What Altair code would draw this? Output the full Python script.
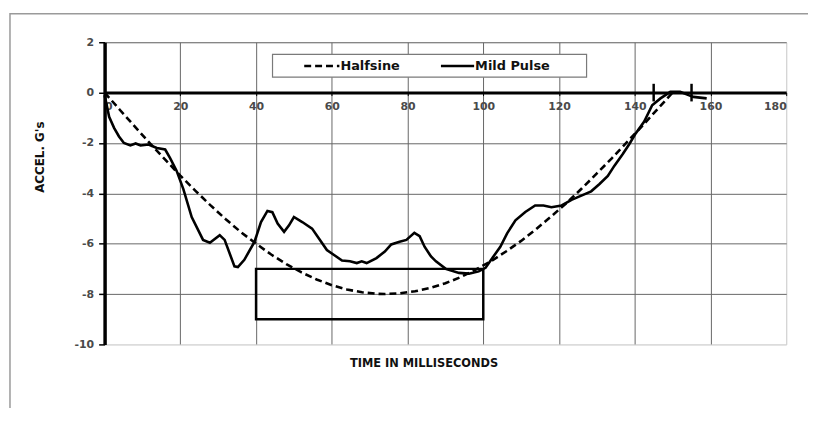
import altair as alt
import pandas as pd

# ---- data ----
series = ["Halfsine", "Mild Pulse"]

half_t = [0, 4, 8, 12, 16, 20, 24, 28, 32, 36, 40, 44, 48, 52, 56, 60, 64, 68, 72, 74,
          78, 82, 86, 90, 94, 98, 102, 106, 110, 114, 118, 122, 126, 130, 134, 138, 142, 146, 150]
half_v = [0, -0.68, -1.35, -2.02, -2.66, -3.30, -3.90, -4.48, -5.03, -5.54, -6.00, -6.43, -6.81,
          -7.14, -7.42, -7.65, -7.82, -7.93, -7.99, -8.0, -7.97, -7.89, -7.76, -7.57, -7.33, -7.03,
          -6.70, -6.31, -5.89, -5.42, -4.91, -4.38, -3.81, -3.21, -2.60, -1.96, -1.32, -0.66, 0]

pulse_t = [0, 1.2, 2.5, 3.8, 5.1, 6.8, 8.2, 9.5, 11.6, 13.8, 16.0, 17.3, 19.0, 20.8, 23.0, 26.0,
           27.8, 30.4, 31.7, 34.3, 35.2, 36.9, 39.6, 41.3, 43.0, 44.3, 45.7, 47.4, 48.7, 50.0,
           52.2, 54.8, 56.6, 58.7, 60.5, 62.7, 64.8, 66.6, 67.9, 69.2, 71.8, 74.0, 75.7, 77.9,
           79.7, 81.8, 83.2, 84.5, 86.2, 87.5, 90.1, 93.6, 96.2, 98.8, 100.6, 102.4, 104.5,
           106.3, 108.5, 111.1, 113.7, 115.9, 118.0, 120.7, 123.3, 125.9, 128.5, 130.7, 132.9,
           134.6, 136.8, 138.5, 140.3, 142.5, 144.6, 146.8, 149.4, 152.0, 154.2, 155.5, 159.0]
pulse_v = [-0.1, -0.96, -1.4, -1.74, -2.0, -2.1, -2.02, -2.1, -2.06, -2.2, -2.26, -2.6, -3.1,
           -3.83, -4.94, -5.85, -5.96, -5.66, -5.85, -6.9, -6.93, -6.64, -5.92, -5.14, -4.7,
           -4.75, -5.2, -5.53, -5.27, -4.94, -5.14, -5.4, -5.79, -6.25, -6.44, -6.67, -6.7,
           -6.77, -6.7, -6.77, -6.57, -6.31, -6.03, -5.92, -5.85, -5.57, -5.7, -6.12, -6.51,
           -6.7, -7.0, -7.16, -7.19, -7.1, -6.96, -6.57, -6.12, -5.59, -5.07, -4.74, -4.48,
           -4.48, -4.55, -4.48, -4.26, -4.09, -3.92, -3.63, -3.31, -2.91, -2.45, -2.06, -1.61,
           -1.15, -0.5, -0.23, 0.03, 0.03, -0.1, -0.17, -0.23]

box_t = [40]
box_t2 = [100]
box_v = [-7]
box_v2 = [-9]

marker_t = [145, 155]
marker_top = [0.35, 0.35]
marker_bot = [-0.35, -0.35]

x_ticks = [0, 20, 40, 60, 80, 100, 120, 140, 160, 180]
y_ticks = [2, 0, -2, -4, -6, -8, -10]

x_title = "TIME IN MILLISECONDS"
y_title = "ACCEL. G's"

# ---- frames ----
half_df = pd.DataFrame({"t": half_t, "v": half_v})
pulse_df = pd.DataFrame({"t": pulse_t, "v": pulse_v})
box_df = pd.DataFrame({"t": box_t, "t2": box_t2, "v": box_v, "v2": box_v2})
marker_df = pd.DataFrame({"t": marker_t, "top": marker_top, "bot": marker_bot})
one = pd.DataFrame({"a": [0]})

W, H = 688, 305
FONT = "DejaVu Sans"
GRID = "#666666"

xs = alt.Scale(domain=[0, 180], nice=False, zero=False)
ys = alt.Scale(domain=[-10, 2], nice=False, zero=False)

x_axis = alt.Axis(
    values=x_ticks, orient="bottom", offset=-H * 10 / 12, title=None,
    grid=True,
    gridColor={"condition": {"test": "datum.value === 180", "value": "#d0d0d0"}, "value": GRID},
    gridWidth=1,
    domainColor="black", domainWidth=3,
    ticks=True, tickColor="black", tickSize=3, tickWidth=1,
    labelPadding=5, labelFont=FONT, labelFontSize=11, labelFontWeight="bold",
    labelColor="#4a4a4a", labelExpr="'' + datum.value",
)
y_axis = alt.Axis(
    values=y_ticks, title=None, grid=True,
    gridColor={"condition": {"test": "datum.value === -10", "value": "#d0d0d0"}, "value": GRID},
    gridWidth=1,
    domainColor="black", domainWidth=3.5,
    ticks=True, tickColor="black", tickSize=6, tickWidth=1.5,
    labelPadding=5, labelFont=FONT, labelFontSize=11, labelFontWeight="bold",
    labelColor="#4a4a4a", labelExpr="'' + datum.value",
)


def X(field):
    return alt.X(field, type="quantitative", scale=xs, axis=x_axis, title=None)


def Y(field):
    return alt.Y(field, type="quantitative", scale=ys, axis=y_axis, title=None)


frame = alt.Chart(one).mark_rect(fillOpacity=0, stroke="#9a9a9a", strokeWidth=1.5).encode(
    x=alt.value(-95.5), x2=alt.value(720), y=alt.value(-28.7), y2=alt.value(420)
)

half = alt.Chart(half_df).mark_line(color="black", strokeWidth=2.6, strokeDash=[7, 4]).encode(
    x=X("t"), y=Y("v"),
)

pulse = alt.Chart(pulse_df).mark_line(color="black", strokeWidth=2.6).encode(
    x=X("t"), y=Y("v"),
)

box = alt.Chart(box_df).mark_rect(fillOpacity=0, stroke="black", strokeWidth=2.5).encode(
    x=X("t"), x2="t2:Q", y=Y("v"), y2="v2:Q",
)

markers = alt.Chart(marker_df).mark_rule(color="black", strokeWidth=2.5).encode(
    x=X("t"), y=Y("top"), y2="bot:Q",
)

# legend (decoration drawn in pixels)
leg_box = alt.Chart(one).mark_rect(fill="white", stroke="#7a7a7a", strokeWidth=1.2).encode(
    x=alt.value(169.5), x2=alt.value(486.5), y=alt.value(12.3), y2=alt.value(35.3)
)
leg_dash = alt.Chart(one).mark_rule(color="black", strokeWidth=2.6, strokeDash=[7, 4]).encode(
    x=alt.value(201.5), x2=alt.value(237), y=alt.value(24)
)
leg_solid = alt.Chart(one).mark_rule(color="black", strokeWidth=2.6).encode(
    x=alt.value(339.5), x2=alt.value(373), y=alt.value(24)
)
leg_t1 = alt.Chart(one).mark_text(align="left", baseline="middle", font=FONT, fontSize=13,
                                  fontWeight="bold", color="#111").encode(
    x=alt.value(238), y=alt.value(24.5), text=alt.value(series[0])
)
leg_t2 = alt.Chart(one).mark_text(align="left", baseline="middle", font=FONT, fontSize=13,
                                  fontWeight="bold", color="#111").encode(
    x=alt.value(374), y=alt.value(24.5), text=alt.value(series[1])
)

xt = alt.Chart(one).mark_text(align="center", baseline="middle", font=FONT, fontSize=11.5,
                              fontWeight="bold", color="#111").encode(
    x=alt.value(322.5), y=alt.value(325), text=alt.value(x_title)
)
yt = alt.Chart(one).mark_text(align="center", baseline="middle", font=FONT, fontSize=12,
                              fontWeight="bold", color="#111", angle=270).encode(
    x=alt.value(-65.5), y=alt.value(116), text=alt.value(y_title)
)

chart = alt.layer(
    frame, half, pulse, box, markers, leg_box, leg_dash, leg_solid, leg_t1, leg_t2, xt, yt
).properties(
    width=W, height=H,
    autosize=alt.AutoSizeParams(type="none"),
    padding={"left": 97.5, "top": 32.7, "right": 22, "bottom": 62},
).configure_view(stroke="#d0d0d0", strokeWidth=1).configure(background="white")

chart.save("out.html", embed_options={"renderer": "svg", "actions": False})
